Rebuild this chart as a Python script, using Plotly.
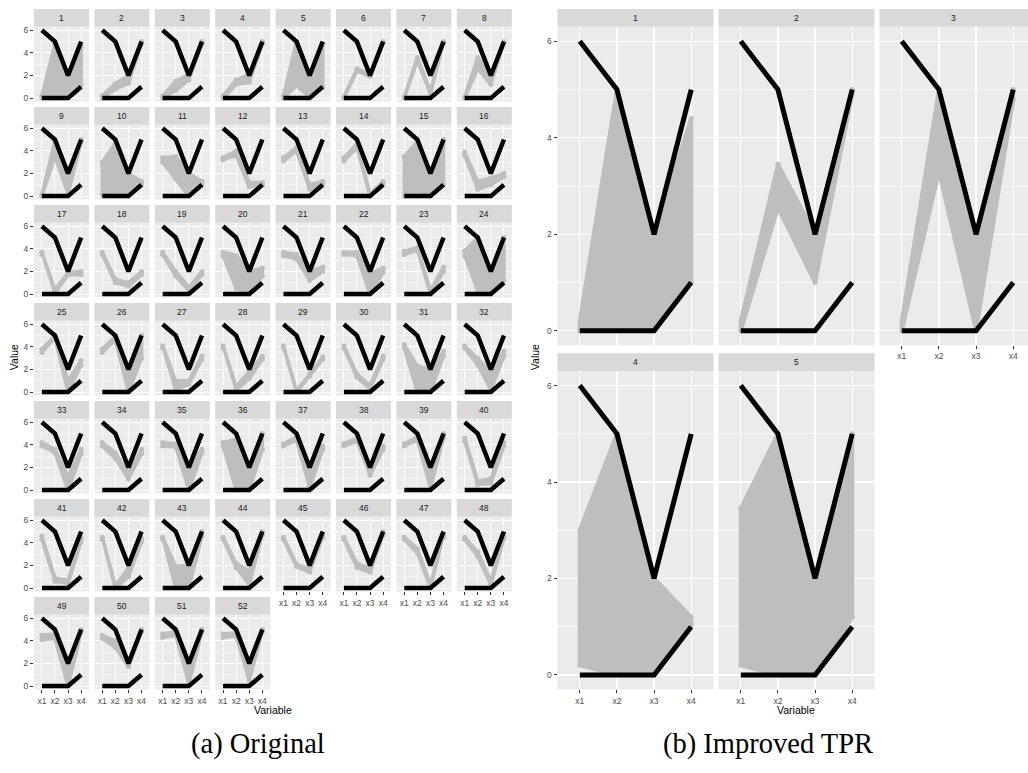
import plotly.graph_objects as go

# ---------------- data ----------------
VARIABLES = ["x1", "x2", "x3", "x4"]
UPPER_LINE = [6, 5, 2, 5]
LOWER_LINE = [0, 0, 0, 1]

# (a) Original: grey band for each of the 52 panels, bounded by two polylines
ORIG_HI = [
    [0.2, 4.8, 2.0, 4.5], [0.2, 1.3, 2.0, 5.0], [0.2, 1.5, 2.1, 5.0], [0.2, 1.6, 2.1, 5.0],
    [0.2, 5.0, 2.0, 4.8], [0.1, 2.6, 2.1, 5.0], [0.1, 3.6, 0.6, 5.0], [0.1, 3.6, 2.0, 5.0],
    [0.1, 4.9, 2.0, 5.0], [3.0, 4.7, 2.0, 1.3], [3.4, 3.5, 2.0, 1.3], [3.4, 4.0, 1.2, 1.2],
    [3.4, 4.3, 1.0, 1.3], [3.4, 4.6, 0.2, 1.3], [3.5, 4.8, 2.0, 5.0], [3.9, 1.3, 1.6, 2.0],
    [3.7, 0.4, 1.9, 2.0], [3.7, 1.3, 1.0, 2.0], [3.7, 2.0, 0.6, 2.0], [3.7, 3.4, 2.0, 2.3],
    [3.7, 3.5, 2.0, 2.4], [3.7, 3.7, 1.8, 2.3], [3.8, 4.1, 0.3, 2.4], [3.8, 5.0, 2.0, 5.0],
    [3.8, 5.0, 1.0, 2.8], [3.8, 4.9, 2.0, 5.0], [4.1, 1.0, 1.0, 3.2], [4.1, 0.5, 1.8, 3.2],
    [4.1, 0.1, 1.6, 3.1], [4.1, 1.6, 0.6, 3.2], [4.2, 2.3, 2.0, 3.6], [4.1, 3.0, 1.8, 3.6],
    [4.2, 3.6, 1.2, 3.6], [4.2, 3.3, 1.5, 3.6], [4.2, 4.1, 2.0, 3.6], [4.2, 4.5, 2.0, 5.0],
    [4.1, 4.7, 2.0, 3.9], [4.1, 4.6, 1.7, 3.9], [4.1, 4.7, 2.0, 5.0], [4.6, 0.8, 1.0, 4.2],
    [4.6, 0.9, 0.7, 4.4], [4.5, 0.2, 1.8, 4.4], [4.5, 1.9, 2.0, 5.0], [4.5, 2.2, 1.5, 5.0],
    [4.5, 2.1, 1.7, 4.7], [4.5, 2.2, 1.7, 5.0], [4.5, 3.5, 0.3, 4.7], [4.5, 3.2, 0.6, 4.7],
    [4.5, 4.6, 2.0, 5.0], [4.5, 4.0, 2.0, 5.0], [4.6, 4.8, 2.0, 5.0], [4.6, 4.7, 2.0, 5.0],
]
ORIG_LO = [
    [0.0, 0.0, 0.0, 1.2], [0.0, 0.8, 1.3, 4.8], [0.0, 0.7, 1.6, 4.8], [0.0, 1.2, 1.4, 4.8],
    [0.0, 1.1, 0.1, 1.0], [0.0, 2.4, 1.9, 4.9], [0.0, 3.3, 0.4, 4.9], [0.0, 2.6, 1.2, 4.9],
    [0.0, 3.5, 0.2, 4.8], [0.1, 0.0, 0.0, 1.0], [3.0, 1.5, 0.0, 1.0], [3.2, 3.6, 0.8, 1.0],
    [3.1, 4.0, 0.6, 1.1], [3.1, 4.3, 0.0, 1.1], [0.0, 0.0, 0.0, 1.0], [3.6, 0.6, 1.0, 1.7],
    [3.5, 0.1, 1.7, 1.7], [3.5, 1.0, 0.7, 1.7], [3.5, 1.6, 0.3, 1.7], [3.4, 0.5, 0.0, 1.6],
    [3.4, 3.1, 1.2, 2.0], [3.5, 3.4, 0.0, 1.9], [3.5, 3.9, 0.0, 2.0], [3.4, 0.3, 0.0, 1.2],
    [3.5, 4.8, 0.0, 2.4], [3.5, 4.6, 0.0, 3.0], [3.9, 0.2, 0.7, 2.9], [3.9, 0.2, 1.2, 2.9],
    [4.0, 0.0, 1.4, 2.9], [3.9, 1.3, 0.3, 2.9], [3.9, 0.0, 0.0, 3.2], [3.9, 2.4, 0.2, 3.2],
    [3.9, 3.3, 0.0, 3.2], [3.9, 2.8, 1.0, 3.2], [3.9, 3.8, 0.0, 3.3], [3.9, 0.0, 0.0, 3.6],
    [3.9, 4.4, 0.2, 3.6], [3.9, 4.3, 1.3, 3.6], [3.9, 4.4, 0.2, 4.6], [4.3, 0.5, 0.6, 3.9],
    [4.3, 0.6, 0.4, 4.1], [4.3, 0.0, 1.0, 4.1], [4.3, 0.0, 0.0, 4.6], [4.3, 1.8, 0.3, 4.7],
    [4.3, 1.9, 1.4, 4.5], [4.3, 1.8, 1.4, 4.7], [4.3, 3.1, 0.0, 4.5], [4.3, 2.8, 0.3, 4.4],
    [4.1, 4.2, 0.0, 4.8], [4.2, 3.4, 1.7, 4.8], [4.3, 4.5, 0.2, 4.8], [4.3, 4.4, 0.5, 4.8],
]

# (b) Improved TPR: 5 panels
TPR_HI = [
    [0.2, 5.0, 2.0, 4.4], [0.2, 3.45, 2.0, 5.0], [0.2, 5.0, 2.0, 5.0],
    [3.0, 5.0, 2.0, 1.2], [3.45, 5.0, 2.0, 5.0],
]
TPR_LO = [
    [0.0, 0.0, 0.0, 1.0], [0.0, 2.55, 1.0, 4.9], [0.0, 3.3, 0.0, 4.8],
    [0.2, 0.0, 0.0, 1.05], [0.2, 0.0, 0.0, 1.2],
]

Y_TICKS = [0, 2, 4, 6]
Y_MINOR = [1, 3, 5]
CAPTIONS = ["(a) Original", "(b) Improved TPR"]

# ---------------- styling ----------------
W, H = 1028, 773
GREY = "#BEBEBE"
PANEL_BG = "#EBEBEB"
STRIP_BG = "#D9D9D9"
TICK_COL = "#4D4D4D"
SANS = "Liberation Sans, Arial, sans-serif"
XPOS = [1, 2, 3, 4]

fig = go.Figure()
layout_axes = {}
shapes = []
annotations = []


def px(x):
    return x / W


def py(y):
    return 1 - y / H


def add_panel(k, x0, x1, ytop, ybot, hi, lo, label, show_x, show_y, small, xmax=4.6):
    xs = "x" if k == 1 else f"x{k}"
    ys = "y" if k == 1 else f"y{k}"
    xa = "xaxis" if k == 1 else f"xaxis{k}"
    ya = "yaxis" if k == 1 else f"yaxis{k}"
    lw = 3.5 if small else 4
    ms = 5
    bw = 4.5 if small else 5
    gw = 0.9 if small else 1.3
    # grey band
    fig.add_trace(go.Scatter(
        x=XPOS + XPOS[::-1] + [XPOS[0]], y=hi + lo[::-1] + [hi[0]],
        mode="lines", fill="toself", fillcolor=GREY,
        line=dict(color=GREY, width=lw), hoverinfo="skip", showlegend=False,
        xaxis=xs, yaxis=ys))
    fig.add_trace(go.Scatter(
        x=XPOS + XPOS, y=hi + lo, mode="markers",
        marker=dict(color=GREY, size=ms), hoverinfo="skip", showlegend=False,
        xaxis=xs, yaxis=ys))
    # black reference lines
    fig.add_trace(go.Scatter(
        x=XPOS + [None] + XPOS, y=UPPER_LINE + [None] + LOWER_LINE,
        mode="lines", line=dict(color="black", width=bw),
        hoverinfo="skip", showlegend=False, xaxis=xs, yaxis=ys))
    layout_axes[xa] = dict(
        domain=[px(x0), px(x1)], range=[0.4, xmax], anchor=ys,
        tickmode="array", tickvals=XPOS, ticktext=VARIABLES,
        showticklabels=show_x, ticks="outside" if show_x else "",
        ticklen=3, tickwidth=1, tickcolor="#333333",
        tickfont=dict(family=SANS, size=8.5, color=TICK_COL),
        showgrid=True, gridcolor="white", gridwidth=gw,
        zeroline=False, showline=False, fixedrange=True)
    layout_axes[ya] = dict(
        domain=[py(ybot), py(ytop)], range=[-0.3, 6.3], anchor=xs,
        tickmode="array", tickvals=Y_TICKS,
        showticklabels=show_y, ticks="outside" if show_y else "",
        ticklen=3, tickwidth=1, tickcolor="#333333",
        tickfont=dict(family=SANS, size=8.5, color=TICK_COL),
        showgrid=True, gridcolor="white", gridwidth=gw,
        minor=dict(tickmode="array", tickvals=Y_MINOR, showgrid=True,
                   gridcolor="white", gridwidth=gw * 0.55, ticks=""),
        zeroline=False, showline=False, fixedrange=True)
    # strip
    shapes.append(dict(type="rect", xref="paper", yref="paper",
                       x0=px(x0), x1=px(x1), y0=py(ytop), y1=py(ytop - 18),
                       fillcolor=STRIP_BG, line=dict(width=0), layer="below"))
    annotations.append(dict(text=label, xref="paper", yref="paper",
                            x=px((x0 + x1) / 2), y=py(ytop - 9),
                            xanchor="center", yanchor="middle", showarrow=False,
                            font=dict(family=SANS, size=8.5, color="#1A1A1A")))


k = 1
# (a) 52 small panels, 8 columns
for i in range(len(ORIG_HI)):
    r, c = divmod(i, 8)
    x0 = 34 + c * 60.4
    x1 = x0 + 55
    ytop = 7 + r * 98.5 + 18
    ybot = ytop + 75
    show_x = (i >= 44)
    show_y = (c == 0)
    add_panel(k, x0, x1, ytop, ybot, ORIG_HI[i], ORIG_LO[i], str(i + 1),
              show_x, show_y, True)
    k += 1

# (b) 5 large panels, 3 columns
for i in range(len(TPR_HI)):
    r, c = divmod(i, 3)
    x0 = 557.5 + c * 161
    full_x1 = x0 + 156
    x1 = min(full_x1, W)
    xmax = 0.4 + 4.2 * (x1 - x0) / 156
    ytop = 25 + r * 346
    ybot = ytop + 320
    show_x = (i >= 2)
    show_y = (c == 0)
    add_panel(k, x0, x1, ytop, ybot, TPR_HI[i], TPR_LO[i], str(i + 1),
              show_x, show_y, False, xmax=xmax)
    k += 1

# axis titles
for (tx, ty, txt, ang) in [(14, 357, "Value", -90), (273, 712, "Variable", 0),
                           (535, 357, "Value", -90), (796, 712, "Variable", 0)]:
    annotations.append(dict(text=txt, xref="paper", yref="paper", x=px(tx), y=py(ty),
                            xanchor="center", yanchor="middle", showarrow=False,
                            textangle=ang, font=dict(family=SANS, size=10.5, color="black")))

# captions
for (tx, txt) in [(258, CAPTIONS[0]), (768, CAPTIONS[1])]:
    annotations.append(dict(text=txt, xref="paper", yref="paper", x=px(tx), y=py(746),
                            xanchor="center", yanchor="middle", showarrow=False,
                            font=dict(family="Liberation Serif, DejaVu Serif, serif",
                                      size=28.5, color="black")))

fig.update_layout(
    width=W, height=H, margin=dict(l=0, r=0, t=0, b=0),
    paper_bgcolor="white", plot_bgcolor=PANEL_BG,
    showlegend=False, shapes=shapes, annotations=annotations,
    **layout_axes)

fig.write_html("out.html",
               config={"displayModeBar": False, "staticPlot": True},
               post_script="document.body.style.margin='0px';"
                           "document.body.style.overflow='hidden';")
